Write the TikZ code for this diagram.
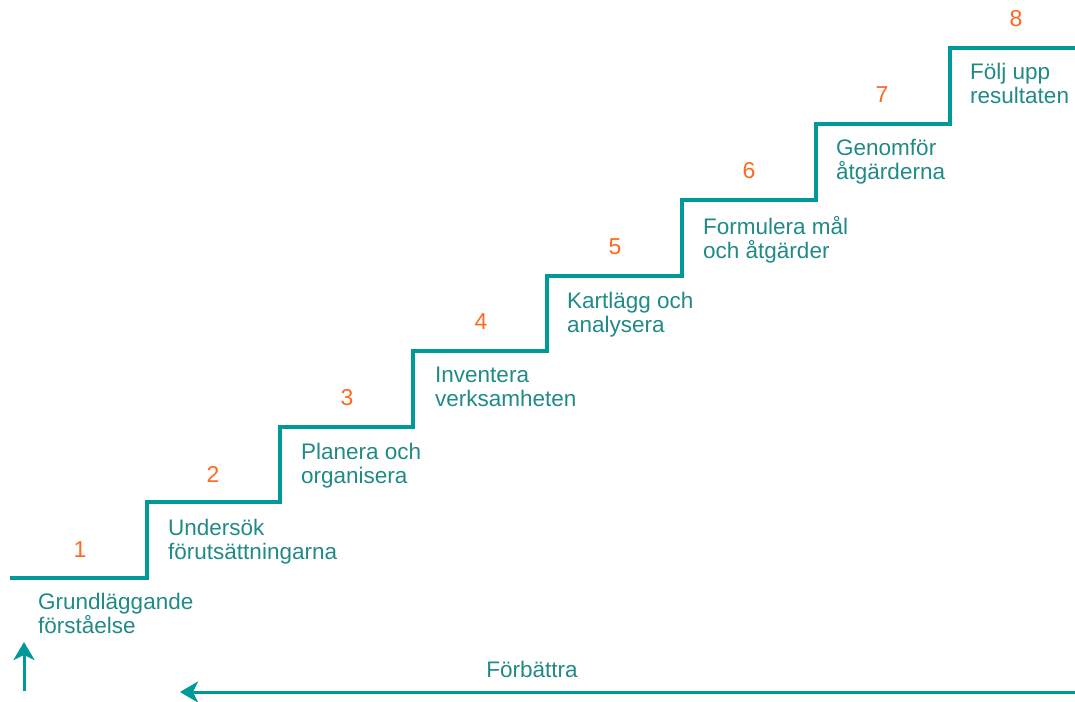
\documentclass[tikz,border=0pt]{standalone}
\usepackage{fontspec}
\setmainfont{Liberation Sans}
\usetikzlibrary{arrows.meta, positioning}

\definecolor{stair}{RGB}{0,153,153}
\definecolor{stairtext}{RGB}{32,138,134}
\definecolor{steporange}{RGB}{255,104,32}

\begin{document}
\begin{tikzpicture}[x=1pt, y=-1pt,
    stairline/.style={draw=stair, line width=4pt},
    arrowline/.style={-{Stealth[length=18pt, width=21pt, inset=5pt]}, draw=stair, fill=stair, line width=3pt},
    lbl/.style={text=stairtext, align=left, inner sep=0pt, font=\fontsize{22.5}{24}\selectfont},
    num/.style={text=steporange, inner sep=0pt, font=\fontsize{23}{24}\selectfont}]

    \useasboundingbox (0,0) rectangle (1075,701);

    % Step corners
    \coordinate (s0) at (10,578);
    \coordinate (s1) at (147,578);
    \coordinate (s2) at (147,502);
    \coordinate (s3) at (280,427);
    \coordinate (s4) at (413,351);
    \coordinate (s5) at (547,276);
    \coordinate (s6) at (682,200);
    \coordinate (s7) at (816,124);
    \coordinate (s8) at (950,48);
    \coordinate (send) at (1077,48);

    % Staircase
    \draw[stairline] (s0) -- (s1) -- (s2) -| (s3) -| (s4) -| (s5) -| (s6) -| (s7) -| (s8) -- (send);

    % Step labels
    \node (lbl1) [lbl, below right=15pt and 28pt of s0, anchor=north west] {Grundläggande\\förståelse};
    \node (lbl2) [lbl, below right=17pt and 21pt of s2, anchor=north west] {Undersök\\förutsättningarna};
    \node (lbl3) [lbl, below right=16pt and 21pt of s3, anchor=north west] {Planera och\\organisera};
    \node (lbl4) [lbl, below right=16pt and 22pt of s4, anchor=north west] {Inventera\\verksamheten};
    \node (lbl5) [lbl, below right=16pt and 20pt of s5, anchor=north west] {Kartlägg och\\analysera};
    \node (lbl6) [lbl, below right=16pt and 21pt of s6, anchor=north west] {Formulera mål\\och åtgärder};
    \node (lbl7) [lbl, below right=15pt and 20pt of s7, anchor=north west] {Genomför\\åtgärderna};
    \node (lbl8) [lbl, below right=15pt and 20pt of s8, anchor=north west] {Följ upp\\resultaten};

    % Step numbers
    \node (num1) [num] at (80,550) {1};
    \node (num2) [num] at (213,474) {2};
    \node (num3) [num] at (347,398) {3};
    \node (num4) [num] at (481,322) {4};
    \node (num5) [num] at (615,247) {5};
    \node (num6) [num] at (749,171) {6};
    \node (num7) [num] at (882,95) {7};
    \node (num8) [num] at (1016,19) {8};

    % Improvement arrows
    \coordinate (upfoot) at (24,691);
    \coordinate (uptip) at (24,642);
    \coordinate (backstart) at (1077,692);
    \coordinate (backtip) at (180,692);
    \draw[arrowline] (upfoot) -- (uptip);
    \draw[arrowline] (backstart) -- (backtip);
    \node (better) [lbl] at (532,669) {Förbättra};

\end{tikzpicture}
\end{document}
